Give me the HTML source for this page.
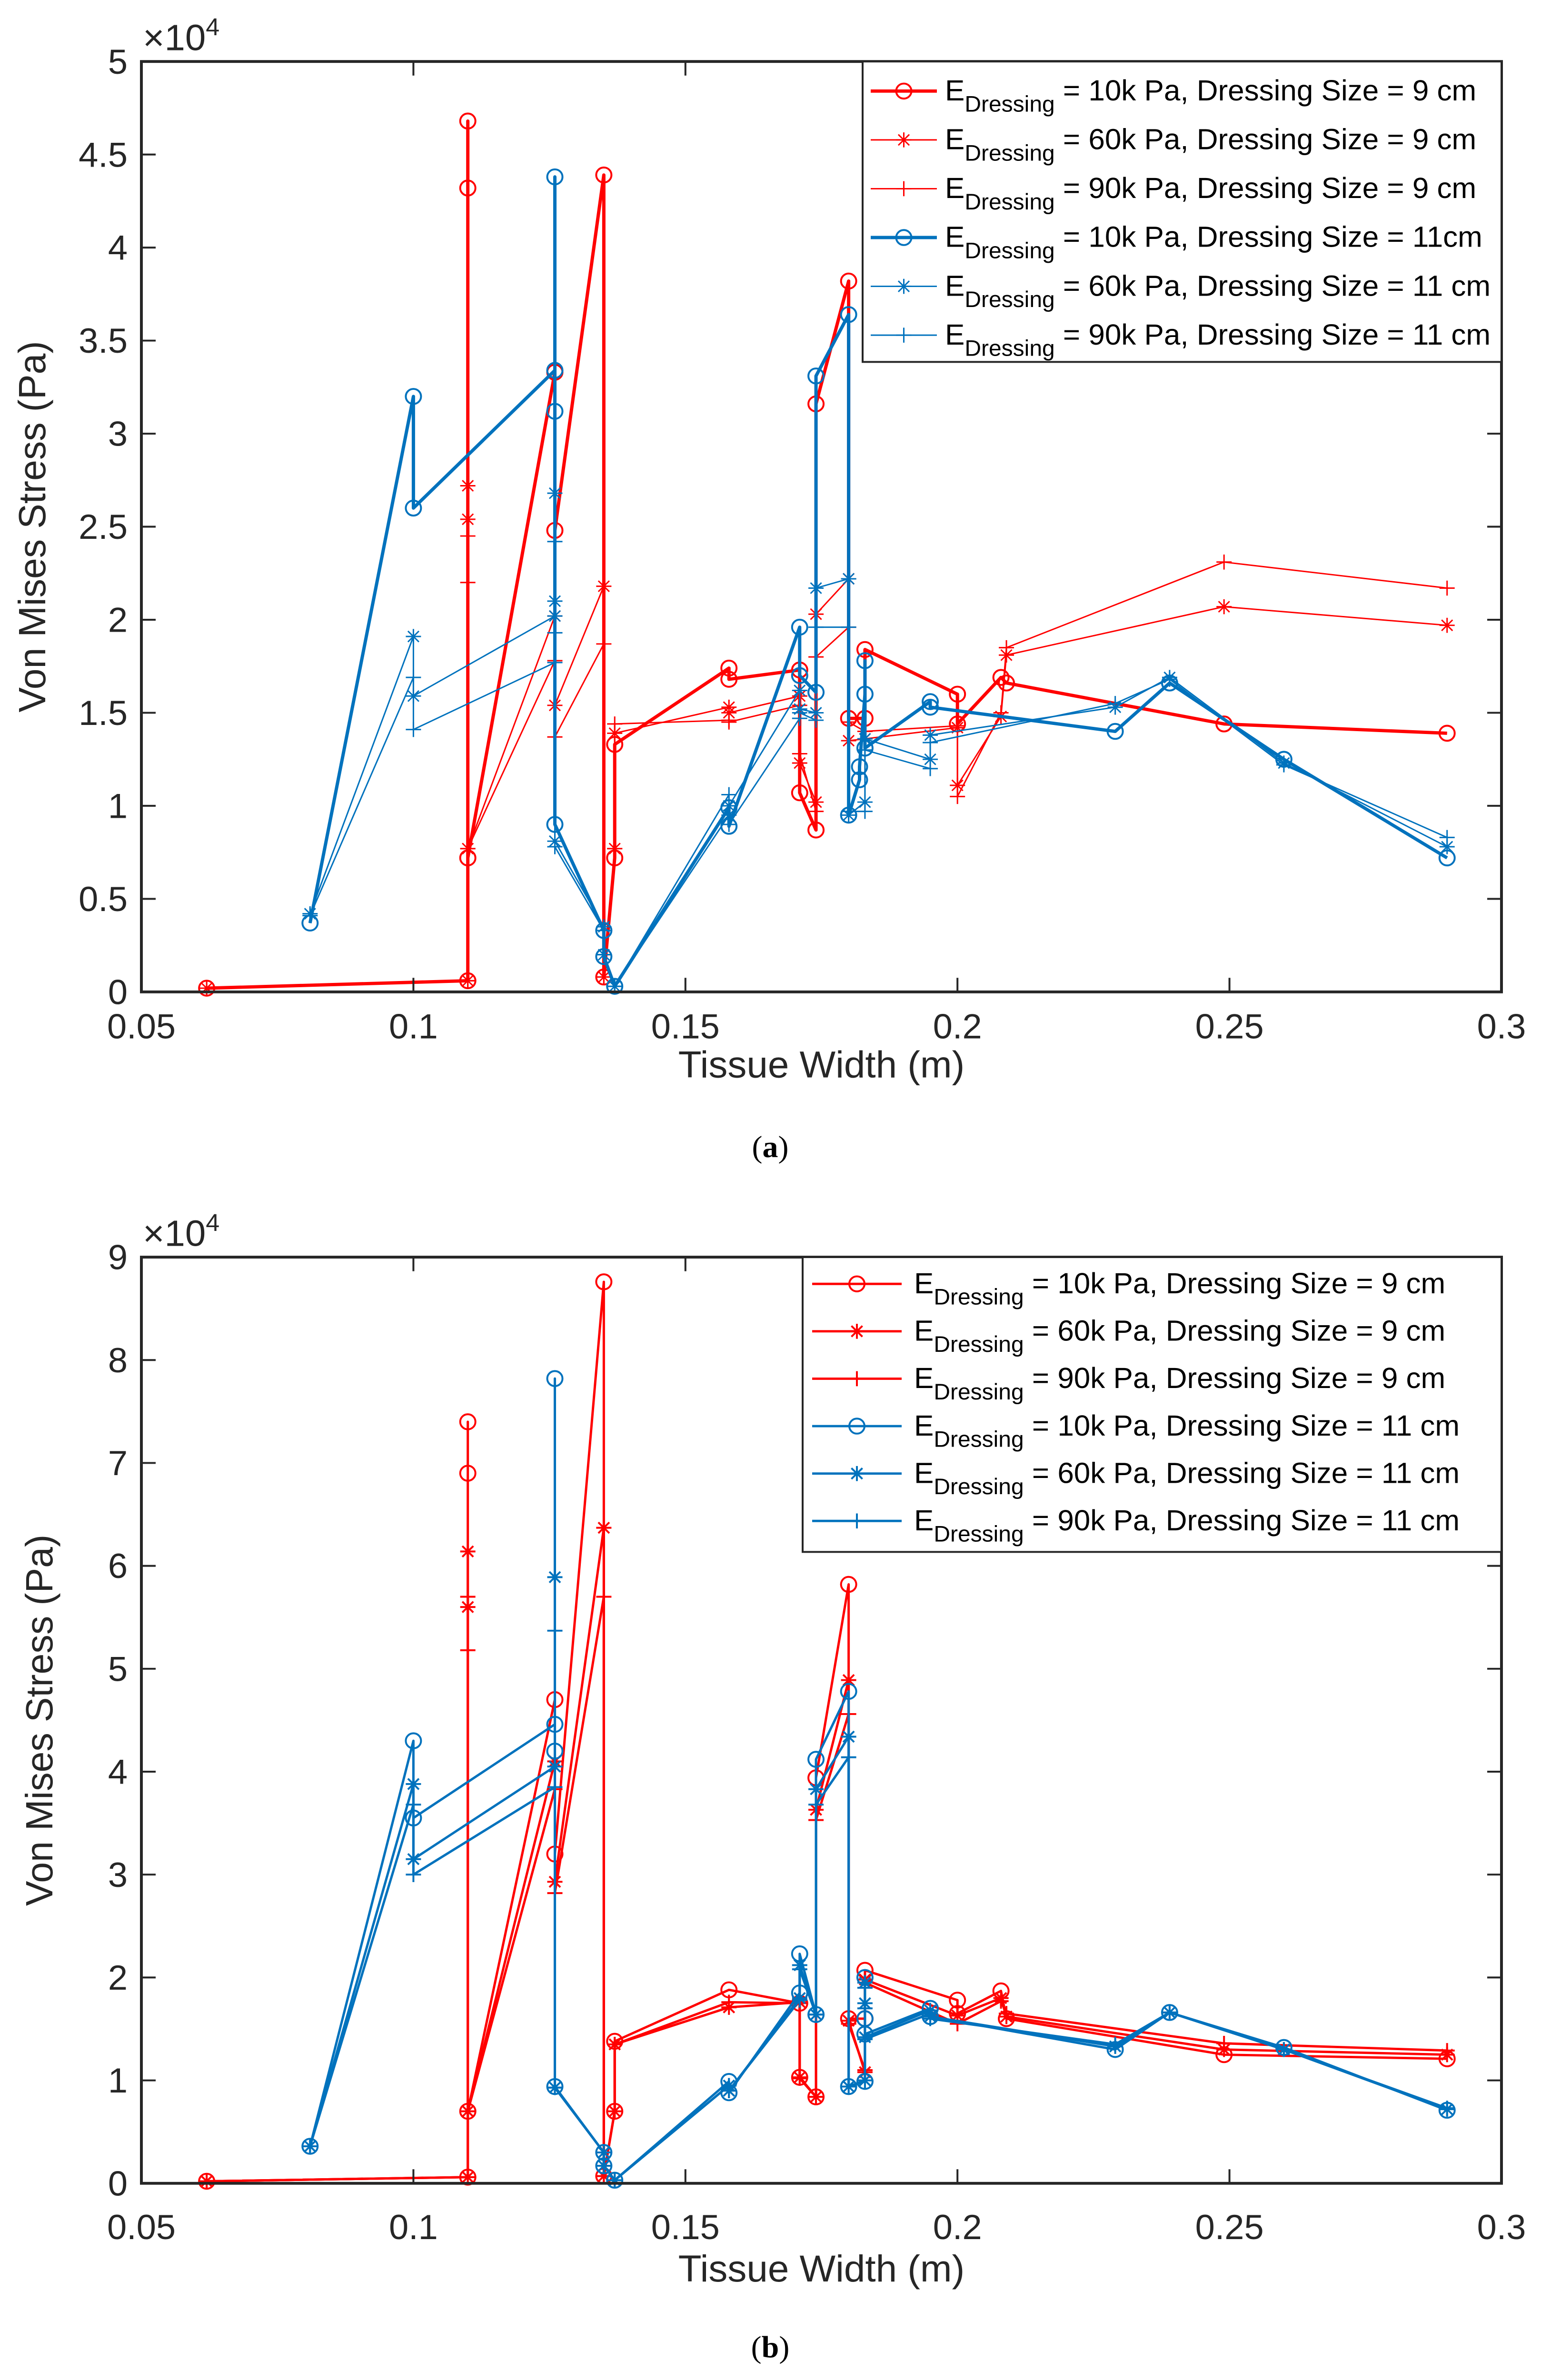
<!DOCTYPE html>
<html><head><meta charset="utf-8">
<style>
html,body{margin:0;padding:0;background:#fff;overflow:hidden;width:100%;height:100%;}
svg{display:block;position:absolute;left:0;top:0;width:100vw;height:100vh;font-family:"Liberation Sans",sans-serif;}
</style></head>
<body>
<svg id="fig" viewBox="0 0 3237 5070" preserveAspectRatio="none" xmlns="http://www.w3.org/2000/svg">
<rect x="0" y="0" width="3237" height="5070" fill="#fff"/>
<g id="plotA"></g>
<g id="plotB"></g>
<text x="1618" y="2465" font-family="Liberation Serif" font-size="66" text-anchor="middle">(<tspan font-weight="bold">a</tspan>)</text>
<text x="1618" y="5022" font-family="Liberation Serif" font-size="66" text-anchor="middle">(<tspan font-weight="bold">b</tspan>)</text>
</svg>
<script>
// ---- data (x in m, y in 1e4 Pa) ----
const xTicks = [0.05,0.1,0.15,0.2,0.25,0.3];
const xTickLabels = ["0.05","0.1","0.15","0.2","0.25","0.3"];
const yTicksA = [0,0.5,1,1.5,2,2.5,3,3.5,4,4.5,5];
const yTickLabelsA = ["0","0.5","1","1.5","2","2.5","3","3.5","4","4.5","5"];
const yTicksB = [0,1,2,3,4,5,6,7,8,9];
const yTickLabelsB = ["0","1","2","3","4","5","6","7","8","9"];
const legendLabels = ["10k Pa, Dressing Size = 9 cm","60k Pa, Dressing Size = 9 cm","90k Pa, Dressing Size = 9 cm","10k Pa, Dressing Size = 11cm","60k Pa, Dressing Size = 11 cm","90k Pa, Dressing Size = 11 cm"];
const legendLabelsB = ["10k Pa, Dressing Size = 9 cm","60k Pa, Dressing Size = 9 cm","90k Pa, Dressing Size = 9 cm","10k Pa, Dressing Size = 11 cm","60k Pa, Dressing Size = 11 cm","90k Pa, Dressing Size = 11 cm"];

const a_r10 = [[0.062,0.02],[0.11,0.06],[0.11,4.68],[0.11,4.32],[0.11,0.72],[0.126,3.33],[0.126,2.48],[0.135,4.39],[0.135,0.08],[0.137,0.72],[0.137,1.33],[0.158,1.74],[0.158,1.68],[0.171,1.73],[0.171,1.07],[0.174,0.87],[0.174,3.16],[0.18,3.82],[0.18,1.47],[0.183,1.47],[0.183,1.84],[0.2,1.6],[0.2,1.44],[0.208,1.69],[0.209,1.66],[0.249,1.44],[0.29,1.39]];
const a_r60 = [[0.062,0.02],[0.11,0.06],[0.11,2.72],[0.11,2.54],[0.11,0.77],[0.126,2.02],[0.126,1.54],[0.135,2.18],[0.135,0.08],[0.137,0.77],[0.137,1.39],[0.158,1.53],[0.158,1.5],[0.171,1.59],[0.171,1.23],[0.174,1.02],[0.174,2.03],[0.18,2.22],[0.18,1.35],[0.183,1.36],[0.2,1.42],[0.2,1.11],[0.208,1.48],[0.209,1.81],[0.249,2.07],[0.29,1.97]];
const a_r90 = [[0.062,0.02],[0.11,0.06],[0.11,2.45],[0.11,2.2],[0.11,0.77],[0.126,1.78],[0.126,1.37],[0.135,1.87],[0.135,0.08],[0.137,0.77],[0.137,1.44],[0.158,1.46],[0.158,1.45],[0.171,1.54],[0.171,1.28],[0.174,0.97],[0.174,1.8],[0.18,1.96],[0.18,1.45],[0.183,1.4],[0.2,1.43],[0.2,1.05],[0.208,1.5],[0.209,1.85],[0.249,2.31],[0.29,2.17]];
const a_b10 = [[0.081,0.37],[0.1,3.2],[0.1,2.6],[0.126,3.34],[0.126,3.12],[0.126,4.38],[0.126,0.9],[0.135,0.33],[0.135,0.19],[0.137,0.03],[0.158,0.99],[0.158,0.89],[0.171,1.96],[0.171,1.7],[0.174,1.61],[0.174,3.31],[0.18,3.64],[0.18,0.95],[0.182,1.14],[0.182,1.21],[0.183,1.6],[0.183,1.78],[0.183,1.31],[0.195,1.56],[0.195,1.53],[0.229,1.4],[0.239,1.66],[0.26,1.25],[0.29,0.72]];
const a_b60 = [[0.081,0.42],[0.1,1.91],[0.1,1.59],[0.126,2.02],[0.126,2.68],[0.126,2.1],[0.126,0.81],[0.135,0.35],[0.135,0.2],[0.137,0.03],[0.158,0.95],[0.158,1.0],[0.171,1.62],[0.171,1.52],[0.174,1.5],[0.174,2.17],[0.18,2.22],[0.18,0.95],[0.183,1.02],[0.183,1.36],[0.195,1.25],[0.195,1.38],[0.229,1.53],[0.239,1.69],[0.26,1.23],[0.29,0.78]];
const a_b90 = [[0.081,0.41],[0.1,1.69],[0.1,1.41],[0.126,1.77],[0.126,2.42],[0.126,1.93],[0.126,0.78],[0.135,0.33],[0.135,0.2],[0.137,0.03],[0.158,1.06],[0.158,0.9],[0.171,1.47],[0.171,1.5],[0.174,1.46],[0.174,1.96],[0.18,1.96],[0.18,0.97],[0.183,0.97],[0.183,1.3],[0.195,1.2],[0.195,1.34],[0.229,1.55],[0.239,1.68],[0.26,1.22],[0.29,0.83]];

const b_r10 = [[0.062,0.02],[0.11,0.06],[0.11,7.4],[0.11,6.9],[0.11,0.7],[0.126,4.7],[0.126,3.2],[0.135,8.76],[0.135,0.07],[0.137,0.7],[0.137,1.38],[0.158,1.88],[0.171,1.75],[0.171,1.03],[0.174,0.84],[0.174,3.94],[0.18,5.82],[0.18,1.6],[0.183,1.6],[0.183,2.07],[0.2,1.78],[0.2,1.65],[0.208,1.87],[0.209,1.6],[0.249,1.25],[0.29,1.21]];
const b_r60 = [[0.062,0.02],[0.11,0.06],[0.11,6.14],[0.11,5.6],[0.11,0.7],[0.126,4.1],[0.126,2.93],[0.135,6.37],[0.135,0.07],[0.137,0.7],[0.137,1.35],[0.158,1.71],[0.171,1.76],[0.171,1.03],[0.174,0.84],[0.174,3.63],[0.18,4.89],[0.18,1.58],[0.183,1.08],[0.183,1.98],[0.2,1.63],[0.208,1.8],[0.209,1.62],[0.249,1.3],[0.29,1.25]];
const b_r90 = [[0.062,0.02],[0.11,0.06],[0.11,5.7],[0.11,5.18],[0.11,0.7],[0.126,3.83],[0.126,2.82],[0.135,5.7],[0.135,0.07],[0.137,0.7],[0.137,1.35],[0.158,1.76],[0.171,1.75],[0.171,1.02],[0.174,0.84],[0.174,3.53],[0.18,4.56],[0.18,1.55],[0.183,1.1],[0.183,1.95],[0.2,1.55],[0.208,1.77],[0.209,1.65],[0.249,1.36],[0.29,1.29]];
const b_b10 = [[0.081,0.36],[0.1,4.3],[0.1,3.55],[0.126,4.46],[0.126,4.2],[0.126,7.82],[0.126,0.94],[0.135,0.3],[0.135,0.17],[0.137,0.03],[0.158,0.99],[0.158,0.88],[0.171,1.85],[0.171,2.23],[0.174,1.64],[0.174,4.12],[0.18,4.78],[0.18,0.94],[0.183,0.99],[0.183,1.6],[0.183,2.0],[0.183,1.45],[0.195,1.7],[0.195,1.62],[0.229,1.3],[0.239,1.66],[0.26,1.32],[0.29,0.71]];
const b_b60 = [[0.081,0.36],[0.1,3.88],[0.1,3.15],[0.126,4.05],[0.126,5.89],[0.126,0.93],[0.135,0.3],[0.135,0.17],[0.137,0.03],[0.158,0.95],[0.158,0.9],[0.171,1.8],[0.171,2.12],[0.174,1.64],[0.174,3.83],[0.18,4.34],[0.18,0.94],[0.183,1.0],[0.183,1.75],[0.183,1.95],[0.183,1.42],[0.195,1.68],[0.195,1.62],[0.229,1.33],[0.239,1.66],[0.26,1.3],[0.29,0.72]];
const b_b90 = [[0.081,0.36],[0.1,3.68],[0.1,3.0],[0.126,3.85],[0.126,5.37],[0.126,0.93],[0.135,0.3],[0.135,0.17],[0.137,0.03],[0.158,0.95],[0.158,0.9],[0.171,1.78],[0.171,2.08],[0.174,1.64],[0.174,3.68],[0.18,4.14],[0.18,0.94],[0.183,1.0],[0.183,1.7],[0.183,1.9],[0.183,1.4],[0.195,1.65],[0.195,1.6],[0.229,1.35],[0.239,1.66],[0.26,1.3],[0.29,0.73]];

const RED = "#FF0000", BLUE = "#0072BD";
const NS = "http://www.w3.org/2000/svg";
function mk(tag, attrs, parent){
  const e = document.createElementNS(NS, tag);
  for (const k in attrs) e.setAttribute(k, attrs[k]);
  parent.appendChild(e);
  return e;
}
function marker(g, kind, cx, cy, color, sw){
  const r = 16;
  if (kind === "o") {
    const c = mk("circle", {cx:cx, cy:cy, r:r, fill:"none", stroke:color, "stroke-width":sw}, g);
    
    
  } else {
    let d = `M${cx-r},${cy}H${cx+r}M${cx},${cy-r}V${cy+r}`;
    if (kind === "*") { const q = r*0.72; d += `M${cx-q},${cy-q}L${cx+q},${cy+q}M${cx-q},${cy+q}L${cx+q},${cy-q}`; }
    const p = mk("path", {d:d, fill:"none", stroke:color, "stroke-width":sw}, g);
    
    
  }
}
function drawChart(cfg){
  const g = document.getElementById(cfg.id);
  const L = 297, R = 3154, T = cfg.top, B = cfg.bottom;
  const xs = v => L + (v - 0.05) / 0.25 * (R - L);
  const ys = v => B - v / cfg.ymax * (B - T);
  cfg.series.forEach((s, i) => {
    const sg = mk("g", {}, g);
    
    
    const pl = mk("polyline", {points: s.data.map(p => xs(p[0]) + "," + ys(p[1])).join(" "), fill:"none", stroke:s.color, "stroke-width":s.sw, "stroke-linejoin":"round"}, sg);
    
    
    s.data.forEach(p => marker(sg, s.m, xs(p[0]), ys(p[1]), s.color, s.msw));
  });
  const box = mk("rect", {x:L, y:T, width:R-L, height:B-T, fill:"none", stroke:"#262626", "stroke-width":6}, g);
  
  
  xTicks.forEach((v, i) => {
    const x = xs(v);
    const t = mk("path", {d:`M${x},${B}v-30M${x},${T}v30`, stroke:"#262626", "stroke-width":4}, g);
    
    
    const tx = mk("text", {x:x, y:cfg.xlabY, "font-size":74, "text-anchor":"middle", fill:"#262626"}, g);
    tx.textContent = xTickLabels[i];
    
    
  });
  cfg.yTicks.forEach((v, i) => {
    const y = ys(v);
    const t = mk("path", {d:`M${L},${y}h30M${R},${y}h-30`, stroke:"#262626", "stroke-width":4}, g);
    
    
    const tx = mk("text", {x:268, y:y+26, "font-size":74, "text-anchor":"end", fill:"#262626"}, g);
    tx.textContent = cfg.yLabels[i];
    
    
  });
  const ex = mk("text", {x:300, y:T-24, "font-size":78, fill:"#262626"}, g);
  ex.innerHTML = '×10<tspan font-size="52" dy="-32">4</tspan>';
  
  
  const xt = mk("text", {x:(L+R)/2, y:cfg.xTitleY, "font-size":80, "text-anchor":"middle", fill:"#262626"}, g);
  xt.textContent = "Tissue Width (m)";
  
  
  const yt = mk("text", {x:0, y:0, "font-size":80, "text-anchor":"middle", fill:"#262626", transform:`translate(${cfg.yTitleX},${(T+B)/2}) rotate(-90)`}, g);
  yt.textContent = "Von Mises Stress (Pa)";
  
  
  const lg = mk("g", {}, g);
  
  
  const lr = mk("rect", {x:cfg.leg.x, y:T, width:R-cfg.leg.x, height:cfg.leg.h, fill:"#fff", stroke:"#262626", "stroke-width":4}, lg);
  
  
  cfg.series.forEach((s, i) => {
    const y = cfg.leg.y0 + i * cfg.leg.dy;
    const eg = mk("g", {}, lg);
    
    
    mk("line", {x1:cfg.leg.lx1, x2:cfg.leg.lx2, y1:y, y2:y, stroke:s.color, "stroke-width":s.sw}, eg);
    marker(eg, s.m, (cfg.leg.lx1+cfg.leg.lx2)/2, y, s.color, s.msw);
    const tx = mk("text", {x:cfg.leg.tx, y:y+20, "font-size":62, fill:"#000"}, eg);
    tx.innerHTML = 'E<tspan font-size="48" dy="24">Dressing</tspan><tspan dy="-24"> = ' + cfg.labels[i] + '</tspan>';
    
    
  });
}
drawChart({id:"plotA", top:131, bottom:2113, ymax:5, yTicks:yTicksA, yLabels:yTickLabelsA,
  xlabY:2212, xTitleY:2295, yTitleX:95, labels:legendLabels,
  leg:{x:1812, h:640, y0:194, dy:104, lx1:1829, lx2:1968, tx:1985},
  series:[
    {name:"a-red-10k", data:a_r10, color:RED, m:"o", sw:7, msw:4},
    {name:"a-red-60k", data:a_r60, color:RED, m:"*", sw:3, msw:3},
    {name:"a-red-90k", data:a_r90, color:RED, m:"+", sw:3, msw:3},
    {name:"a-blue-10k", data:a_b10, color:BLUE, m:"o", sw:7, msw:4},
    {name:"a-blue-60k", data:a_b60, color:BLUE, m:"*", sw:3, msw:3},
    {name:"a-blue-90k", data:a_b90, color:BLUE, m:"+", sw:3, msw:3}
  ]});
drawChart({id:"plotB", top:2678, bottom:4651, ymax:9, yTicks:yTicksB, yLabels:yTickLabelsB,
  xlabY:4770, xTitleY:4860, yTitleX:110, labels:legendLabelsB,
  leg:{x:1686, h:628, y0:2735, dy:101, lx1:1706, lx2:1894, tx:1920},
  series:[
    {name:"b-red-10k", data:b_r10, color:RED, m:"o", sw:5, msw:4},
    {name:"b-red-60k", data:b_r60, color:RED, m:"*", sw:5, msw:4},
    {name:"b-red-90k", data:b_r90, color:RED, m:"+", sw:5, msw:4},
    {name:"b-blue-10k", data:b_b10, color:BLUE, m:"o", sw:5, msw:4},
    {name:"b-blue-60k", data:b_b60, color:BLUE, m:"*", sw:5, msw:4},
    {name:"b-blue-90k", data:b_b90, color:BLUE, m:"+", sw:5, msw:4}
  ]});
</script>
</body></html>
